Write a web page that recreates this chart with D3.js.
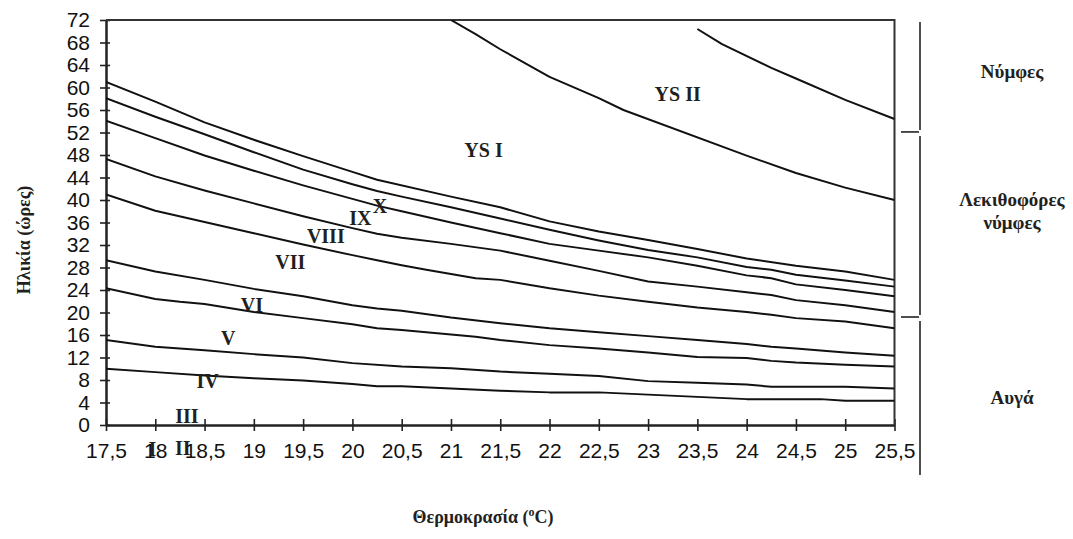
<!DOCTYPE html>
<html>
<head>
<meta charset="utf-8">
<script src="https://cdn.jsdelivr.net/npm/d3@7"></script>
<style>
  html, body { margin: 0; padding: 0; background: #fff; }
  svg { display: block; }
  .tick text { font-family: "Liberation Sans", Arial, sans-serif; font-size: 21px; fill: #111; }
  .lbl { font-family: "Liberation Serif", "Times New Roman", serif; font-weight: bold; fill: #231f20; }
</style>
</head>
<body>
<svg id="chart" width="1073" height="539"></svg>
<script>
// Development boundaries (hours) against temperature (°C), lowest boundary first
const boundaryIV   = [[17.5,10.0],[18,9.4],[18.5,8.8],[19,8.3],[19.5,7.9],[20,7.3],[20.25,6.9],[20.5,6.9],[21,6.5],[21.5,6.1],[22,5.8],[22.5,5.8],[23,5.4],[23.5,5.0],[24,4.6],[24.75,4.6],[25,4.3],[25.5,4.3]];
const boundaryV    = [[17.5,15.1],[18,13.9],[18.5,13.3],[19,12.6],[19.5,12.0],[20,11.0],[20.5,10.4],[21,10.1],[21.5,9.5],[22,9.1],[22.5,8.7],[23,7.8],[23.5,7.5],[24,7.2],[24.25,6.8],[25,6.8],[25.5,6.5]];
const boundaryVI   = [[17.5,24.3],[18,22.4],[18.25,21.9],[18.5,21.5],[19,20.1],[19.5,19.0],[20,17.9],[20.25,17.2],[20.5,16.9],[21,16.1],[21.25,15.7],[21.5,15.1],[22,14.2],[22.5,13.6],[23,12.9],[23.5,12.1],[24,11.9],[24.25,11.4],[24.5,11.1],[25,10.7],[25.5,10.4]];
const boundaryVII  = [[17.5,29.3],[18,27.3],[18.5,25.8],[19,24.2],[19.5,22.9],[20,21.3],[20.25,20.7],[20.5,20.3],[21,19.1],[21.5,18.1],[22,17.2],[22.5,16.5],[23,15.8],[23.5,15.1],[24,14.4],[24.25,13.9],[24.5,13.6],[25,12.9],[25.5,12.3]];
const boundaryVIII = [[17.5,41.0],[18,38.1],[18.5,36.1],[19,34.1],[19.5,32.1],[20,30.2],[20.25,29.3],[20.5,28.4],[20.75,27.6],[21.25,26.1],[21.5,25.8],[22,24.3],[22.5,23.0],[23,21.9],[23.5,20.9],[24,20.1],[24.25,19.6],[24.5,19.0],[25,18.4],[25.5,17.2]];
const boundaryIX   = [[17.5,47.3],[18,44.2],[18.5,41.7],[19,39.4],[19.5,37.1],[20,35.0],[20.25,34.0],[20.5,33.3],[21,32.2],[21.5,31.0],[22,29.2],[22.5,27.4],[23,25.5],[23.5,24.6],[24,23.6],[24.25,23.1],[24.5,22.2],[25,21.3],[25.5,20.1]];
const boundaryX    = [[17.5,54.1],[18,51.0],[18.5,47.9],[19,45.2],[19.5,42.6],[20,40.2],[20.25,39.0],[20.5,38.0],[21,36.0],[21.5,34.1],[22,32.2],[22.5,31.0],[23,29.8],[23.5,28.3],[24,26.6],[24.25,26.1],[24.5,25.0],[25,24.0],[25.5,22.9]];
const boundaryXI   = [[17.5,58.1],[18,54.8],[18.5,51.7],[19,48.5],[19.5,45.4],[20,42.8],[20.25,41.6],[20.5,40.6],[21,38.7],[21.5,36.7],[22,34.7],[22.5,32.8],[23,31.1],[23.5,29.8],[24,28.1],[24.25,27.6],[24.5,26.7],[25,25.7],[25.5,24.6]];
const boundaryYS1  = [[17.5,61.0],[18,57.5],[18.5,53.8],[19,50.7],[19.5,47.8],[20,45.0],[20.25,43.6],[21,40.6],[21.5,38.7],[22,36.2],[22.5,34.4],[23,32.9],[23.5,31.3],[24,29.6],[24.5,28.3],[25,27.3],[25.5,25.8]];
const boundaryYS2  = [[21,72],[21.25,69.5],[21.5,66.8],[22,61.9],[22.5,58.1],[22.75,56.0],[24,47.9],[24.5,44.8],[25,42.2],[25.5,40.0]];
const boundaryEnd  = [[23.5,70.4],[23.75,67.7],[24.25,63.5],[24.5,61.6],[25,57.8],[25.5,54.4]];

const boundaries = [boundaryIV, boundaryV, boundaryVI, boundaryVII, boundaryVIII,
                    boundaryIX, boundaryX, boundaryXI, boundaryYS1, boundaryYS2, boundaryEnd];

// Stage names and where each is written [temperature, hours]
const stageNames = ["I", "II", "III", "IV", "V", "VI", "VII", "VIII", "IX", "X", "YS I", "YS II"];
const stageSpots = [[17.97,-5.5],[18.28,-5.3],[18.32,0.4],[18.53,6.6],[18.74,14.2],[18.98,20.1],
                    [19.37,27.7],[19.73,32.4],[20.08,35.6],[20.28,37.7],[21.33,47.6],[23.3,57.6]];

// Axis ticks
const xTicks = d3.range(17.5, 25.51, 0.5);
const yTicks = d3.range(0, 73, 4);

// Developmental phases on the right, bounded in hours
const phaseNames  = [["Νύμφες"], ["Λεκιθοφόρες", "νύμφες"], ["Αυγά"]];
const phaseBounds = [72, 52.1, 19.2, -8.9];

const svg = d3.select("#chart");
const x = d3.scaleLinear().domain([17.5, 25.5]).range([106, 894.5]);
const y = d3.scaleLinear().domain([0, 72]).range([425, 20]);
const fmt = d => String(d).replace(".", ",");

// x axis: ticks crossing the baseline
svg.append("g").attr("transform", `translate(0,${y(0)})`)
  .call(d3.axisBottom(x).tickValues(xTicks).tickFormat(fmt).tickSizeInner(6).tickSizeOuter(0).tickPadding(12));
svg.append("g").attr("transform", `translate(0,${y(0)})`)
  .call(d3.axisBottom(x).tickValues(xTicks).tickFormat("").tickSizeInner(-6).tickSizeOuter(0));

// y axis
svg.append("g").attr("transform", `translate(${x(17.5)},0)`)
  .call(d3.axisLeft(y).tickValues(yTicks).tickSizeInner(6).tickSizeOuter(0).tickPadding(10));
svg.append("g").attr("transform", `translate(${x(17.5)},0)`)
  .call(d3.axisLeft(y).tickValues(yTicks).tickFormat("").tickSizeInner(-4).tickSizeOuter(0));

svg.selectAll(".domain, .tick line").attr("stroke", "#222").attr("stroke-width", 1.6);
svg.selectAll(".domain").attr("stroke-width", 2);
svg.selectAll(".tick text").attr("fill", "#111");

// frame: top and right
svg.append("path")
  .attr("d", `M${x(17.5)},${y(72)}H${x(25.5)}V${y(0)}`)
  .attr("fill", "none").attr("stroke", "#333").attr("stroke-width", 2);

// boundary curves
svg.append("clipPath").attr("id", "plotclip")
  .append("rect").attr("x", x(17.5)).attr("y", y(72)).attr("width", x(25.5) - x(17.5)).attr("height", y(0) - y(72));
const line = d3.line().x(d => x(d[0])).y(d => y(d[1]));
svg.append("g").attr("clip-path", "url(#plotclip)")
  .selectAll("path").data(boundaries).join("path")
  .attr("d", line).attr("fill", "none").attr("stroke", "#111").attr("stroke-width", 2)
  .attr("stroke-linejoin", "round");

// stage labels
svg.append("g").selectAll("text").data(stageNames).join("text")
  .attr("class", "lbl").attr("font-size", 20).attr("text-anchor", "middle")
  .attr("x", (d, i) => x(stageSpots[i][0])).attr("y", (d, i) => y(stageSpots[i][1]))
  .text(d => d);

// phase brackets
const bx = 920;
const ph = svg.append("g").attr("stroke", "#222").attr("stroke-width", 1.6);
phaseBounds.slice(0, -1).forEach((top, i) => {
  const bot = phaseBounds[i + 1];
  ph.append("line").attr("x1", bx).attr("x2", bx)
    .attr("y1", y(top) + (i === 0 ? 2 : 4)).attr("y2", y(bot) - (i === phaseBounds.length - 2 ? 0 : 2));
  if (i < phaseBounds.length - 2) {
    ph.append("line").attr("x1", bx - 19).attr("x2", bx - 1).attr("y1", y(bot)).attr("y2", y(bot));
  }
});
const phaseY = [78, 206, 404];
phaseNames.forEach((lines, i) => {
  const t = svg.append("text").attr("class", "lbl").attr("font-size", 19)
    .attr("text-anchor", "middle").attr("x", 1012).attr("y", phaseY[i]);
  lines.forEach((s, j) => t.append("tspan").attr("x", 1012).attr("dy", j ? 23 : 0).text(s));
});

// axis titles
svg.append("text").attr("class", "lbl").attr("font-size", 18).attr("text-anchor", "middle")
  .attr("transform", `translate(30,240) rotate(-90)`)
  .text("Ηλικία (ώρες)");
const xt = svg.append("text").attr("class", "lbl").attr("font-size", 18).attr("text-anchor", "middle")
  .attr("x", 483).attr("y", 523);
xt.append("tspan").text("Θερμοκρασία (");
xt.append("tspan").attr("font-size", 12).attr("dy", -7).text("o");
xt.append("tspan").attr("dy", 7).text("C)");
</script>
</body>
</html>
